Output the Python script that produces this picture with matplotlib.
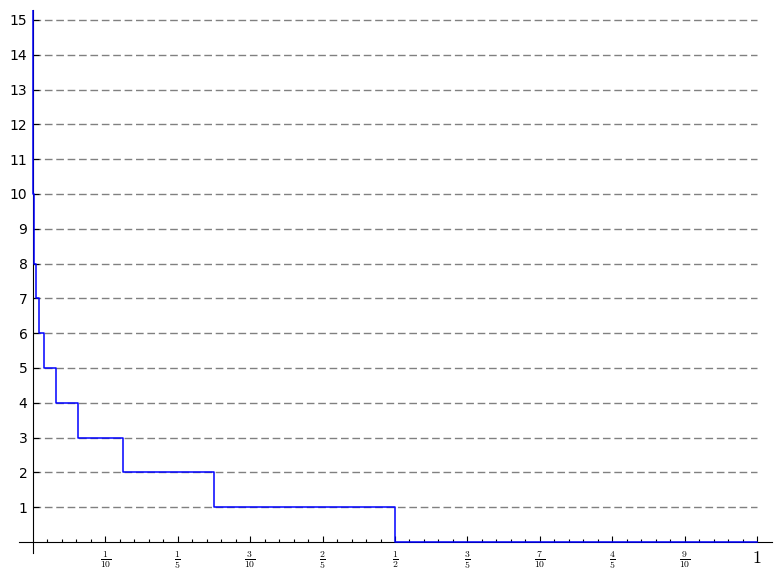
import matplotlib
matplotlib.use("Agg")
import matplotlib.pyplot as plt
from matplotlib.ticker import FixedLocator

plt.rcParams['mathtext.fontset'] = 'cm'

# step edges (x where the value jumps) and the value on each piece
edges = [1, 1/2, 1/4, 1/8, 1/16, 1/32, 1/64, 1/128, 1/256, 1/512, 1/1024,
         1/2048, 1/4096, 1/8192, 1/16384, 1/32768, 1/65536, 0]
levels = [0, 1, 2, 3, 4, 5, 6, 7, 8, 9, 10, 11, 12, 13, 14, 15, 16]

xticks = [0.1, 0.2, 0.3, 0.4, 0.5, 0.6, 0.7, 0.8, 0.9, 1.0]
xlabels = [r'$\frac{1}{10}$', r'$\frac{1}{5}$', r'$\frac{3}{10}$', r'$\frac{2}{5}$',
           r'$\frac{1}{2}$', r'$\frac{3}{5}$', r'$\frac{7}{10}$', r'$\frac{4}{5}$',
           r'$\frac{9}{10}$', r'$1$']
yticks = list(range(1, 16))

xs, ys = [], []
for i, v in enumerate(levels):
    xs += [edges[i], edges[i + 1]]
    ys += [v, v]

fig = plt.figure(figsize=(7.81, 5.80), dpi=100)
ax = fig.add_axes([19/781, 1 - 553/580, 753/781, 543/580])

ax.hlines(yticks, 0, 1, colors='gray', linestyles=(0, (5.5, 2.7)), linewidth=1.0, zorder=1)
ax.plot(xs, ys, color='blue', linewidth=1.1, zorder=5)

ax.set_xlim(-0.0193, 1.0207)
ax.set_ylim(-0.316, 15.287)

ax.spines['left'].set_position(('data', 0))
ax.spines['bottom'].set_position(('data', 0))
ax.spines['top'].set_visible(False)
ax.spines['right'].set_visible(False)

ax.xaxis.set_major_locator(FixedLocator(xticks))
ax.set_xticklabels(xlabels)
ax.xaxis.set_minor_locator(FixedLocator([i / 50 for i in range(1, 50)]))
ax.get_xticklabels()[-1].set_fontsize(13)
ax.set_yticks(yticks)
ax.set_yticklabels([str(v) for v in yticks])

ax.tick_params(axis='x', which='major', direction='in', length=4, width=0.8,
               labelsize=10, pad=5)
ax.tick_params(axis='x', which='minor', direction='in', length=2.5, width=0.8)
ax.tick_params(axis='y', which='major', direction='in', length=4, width=0.8,
               labelsize=10, pad=4)
ax.get_xticklabels()[-1].set_fontsize(13)

fig.savefig('out.png', dpi=100)
